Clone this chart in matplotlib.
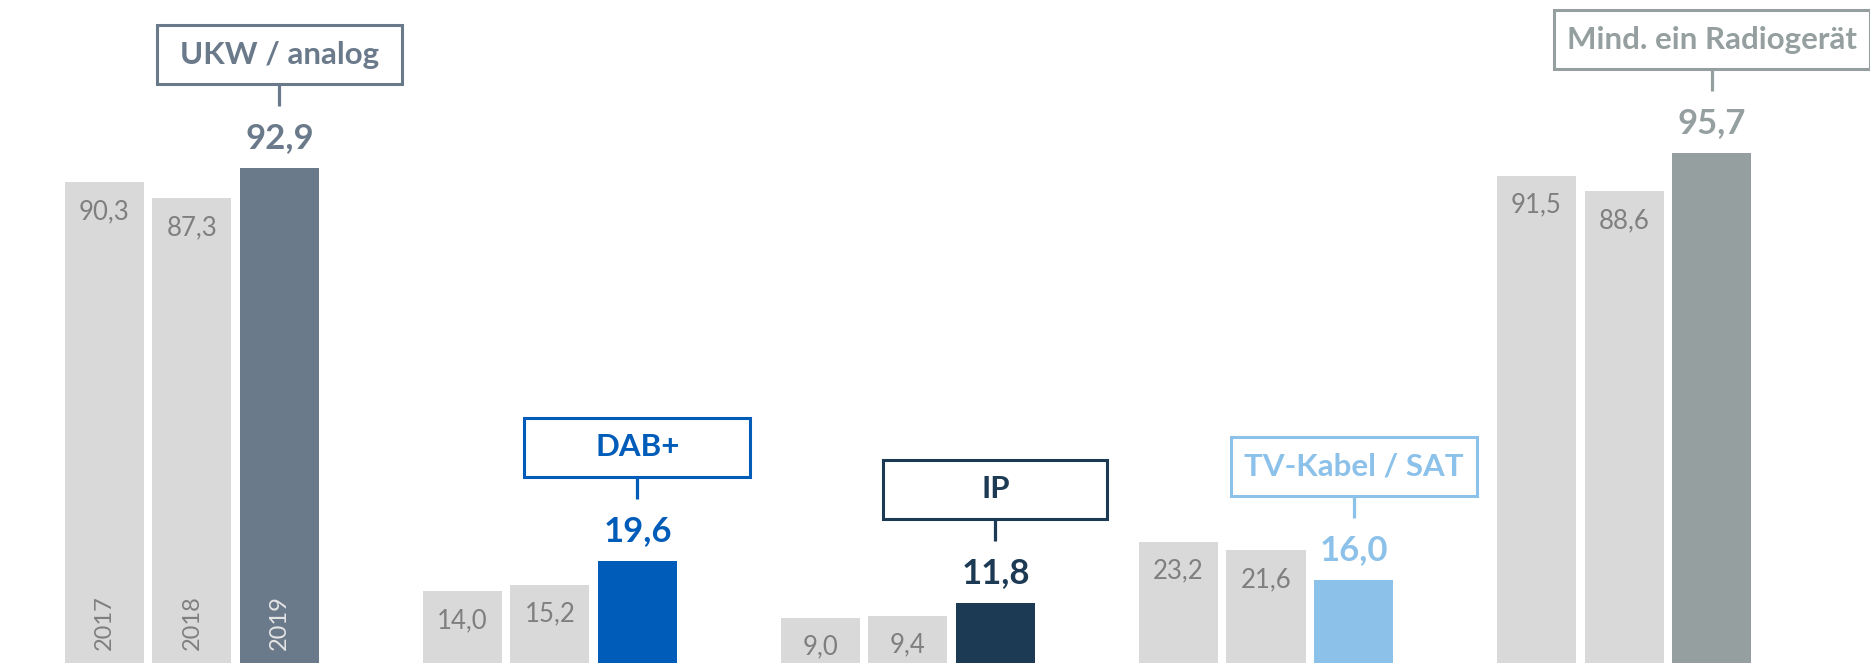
#!/usr/bin/env python
# radio reception paths 2017-2019, grouped bars with callout boxes
import matplotlib.pyplot as plt
from matplotlib.patches import Rectangle

plt.rcParams['font.family'] = ['Lato', 'DejaVu Sans']

groups = ["UKW / analog", "DAB+", "IP", "TV-Kabel / SAT", "Mind. ein Radiogerät"]
years = ["2017", "2018", "2019"]
v2017 = [90.3, 14.0, 9.0, 23.2, 91.5]
v2018 = [87.3, 15.2, 9.4, 21.6, 88.6]
v2019 = [92.9, 19.6, 11.8, 16.0, 95.7]
colors = ["#6b7a8b", "#005cb9", "#1d3a55", "#8cc1ea", "#959f9f"]
box_w = [245, 226, 224, 246, 316]  # callout box widths in px

grey = "#d9d9d9"
txtgrey = "#7f7f7f"
W, H = 1870, 663
pitch = 0.2444
bw = 0.2207

fig = plt.figure(figsize=(W / 100, H / 100), dpi=100)
ax = fig.add_axes([0, 0, 1, 1])
ax.set_xlim(-0.536, 4.687)
ax.set_ylim(0.56, 124.25)
ax.axis('off')

# data units per pixel
sx = (4.687 + 0.536) / W
sy = (124.25 - 0.56) / H


def fmt(v):
    return f"{v:.1f}".replace('.', ',')


for i, g in enumerate(groups):
    vals = [v2017[i], v2018[i], v2019[i]]
    for j, v in enumerate(vals):
        x = i + (j - 1) * pitch
        c = colors[i] if j == 2 else grey
        ax.bar(x, v, width=bw, color=c, linewidth=0)
        if j < 2:
            ax.annotate(fmt(v), (x, v), xytext=(0, -37), textcoords='offset pixels',
                        ha='center', va='baseline', fontsize=18.5, color=txtgrey)
        else:
            ax.annotate(fmt(v), (x, v), xytext=(0, 20), textcoords='offset pixels',
                        ha='center', va='baseline', fontsize=25, fontweight='bold', color=c)
            # callout box + connector
            y_line0 = v + 62 * sy
            y_box0 = v + 84 * sy
            ax.plot([x, x], [y_line0, y_box0], color=c, lw=2.3, solid_capstyle='butt')
            bwid = box_w[i] * sx
            ax.add_patch(Rectangle((x - bwid / 2, y_box0), bwid, 59 * sy,
                                   facecolor='white', edgecolor=c, lw=2.2, clip_on=True))
            ax.text(x, y_box0 + 29.5 * sy, g, ha='center', va='center',
                    fontsize=22.5, fontweight='bold', color=c)
        if i == 0:
            yc = "#e4e4e4" if j == 2 else txtgrey
            ax.annotate(years[j], (x, 0), xytext=(0, 16), textcoords='offset pixels',
                        ha='center', va='bottom', rotation=90, fontsize=17,
                        color=yc, annotation_clip=False)

plt.savefig("out.png", dpi=100)
